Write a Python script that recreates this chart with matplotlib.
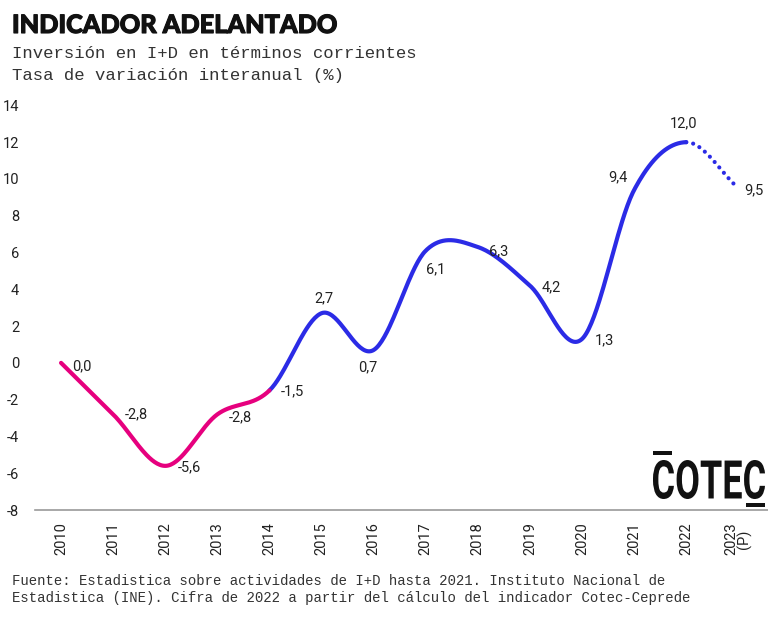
import numpy as np
import matplotlib
matplotlib.use("Agg")
import matplotlib.pyplot as plt
import matplotlib.patheffects as pe
from matplotlib.textpath import TextPath
from matplotlib.patches import PathPatch, Rectangle
from matplotlib.font_manager import FontProperties
from matplotlib.transforms import Affine2D

# data
years = ["2010", "2011", "2012", "2013", "2014", "2015", "2016", "2017",
         "2018", "2019", "2020", "2021", "2022", "2023\n(P)"]
values = [0.0, -2.8, -5.6, -2.8, -1.5, 2.7, 0.7, 6.1, 6.3, 4.2, 1.3, 9.4, 12.0, 9.5]
labels = ["0,0", "-2,8", "-5,6", "-2,8", "-1,5", "2,7", "0,7", "6,1",
          "6,3", "4,2", "1,3", "9,4", "12,0", "9,5"]
# label offsets in pixels from each point
label_off = [(21, -3), (23, 0), (24, -1), (23, -3), (23, -1), (2, 15), (-6, -17),
             (10, -19), (21, -4), (21, -2), (22, -1), (-16, 13), (-3, 19), (16, -2)]

pink = "#E6007E"
blue = "#2B2BE6"

x = np.arange(len(values))
y = np.array(values)

# Catmull-Rom style tangents
m = np.zeros_like(y)
m[1:-1] = (y[2:] - y[:-2]) / 2
m[0] = y[1] - y[0]
m[-1] = y[-1] - y[-2]


def segment(i, n=40):
    t = np.linspace(0, 1, n)
    h00 = 2 * t**3 - 3 * t**2 + 1
    h10 = t**3 - 2 * t**2 + t
    h01 = -2 * t**3 + 3 * t**2
    h11 = t**3 - t**2
    yy = h00 * y[i] + h10 * m[i] + h01 * y[i + 1] + h11 * m[i + 1]
    return x[i] + t, yy


def curve(a, b):
    xs, ys = [], []
    for i in range(a, b):
        sx, sy = segment(i)
        xs.append(sx)
        ys.append(sy)
    return np.concatenate(xs), np.concatenate(ys)


fig = plt.figure(figsize=(7.68, 6.17), dpi=100)
ax = fig.add_axes([35 / 768, 1 - 510 / 617, 1 - 35 / 768, (510 - 105.4) / 617])

cx, cy = curve(4, 12)
ax.plot(cx, cy, color=blue, lw=3, solid_capstyle="round", zorder=3)
cx, cy = curve(0, 4)
ax.plot(cx, cy, color=pink, lw=3, solid_capstyle="round", zorder=4)
cx, cy = curve(12, 13)
ax.plot(cx, cy, color=blue, lw=3, linestyle=(0, (0.01, 1.7)),
        dash_capstyle="round", zorder=3)

for xi, yi, lab, off in zip(x, y, labels, label_off):
    ax.annotate(lab, (xi, yi), xytext=off, textcoords="offset pixels",
                ha="center", va="center", fontsize=10.5, family="Roboto",
                color="#222222")

ax.set_xlim(-0.5, 13.57)
ax.set_ylim(-8, 14)
ax.set_yticks(range(-8, 15, 2))
ax.set_yticklabels([str(v) for v in range(-8, 15, 2)], family="Roboto",
                   fontsize=10.5, color="#222222")
ax.set_xticks(x)
ax.set_xticklabels(years, rotation=90, family="Roboto", fontsize=10.5,
                   color="#222222", linespacing=0.9)
ax.tick_params(axis="both", length=0)
ax.tick_params(axis="y", pad=11.5)
ax.tick_params(axis="x", pad=9)
for s in ["top", "right", "left"]:
    ax.spines[s].set_visible(False)
ax.spines["bottom"].set_color("#9a9a9a")
ax.spines["bottom"].set_linewidth(1.2)

# title / subtitle / footer
fig.text(12 / 768, 1 - 33 / 617, "INDICADOR ADELANTADO", family="Lato",
         fontweight="black", fontsize=18.2, color="#111111",
         path_effects=[pe.withStroke(linewidth=0.8, foreground="#111111")])
fig.text(12 / 768, 1 - 58 / 617, "Inversión en I+D en términos corrientes",
         family="Liberation Mono", fontsize=12.4, color="#333333")
fig.text(12 / 768, 1 - 80 / 617, "Tasa de variación interanual (%)",
         family="Liberation Mono", fontsize=12.4, color="#333333")
fig.text(12 / 768, 1 - 585 / 617,
         "Fuente: Estadistica sobre actividades de I+D hasta 2021. Instituto Nacional de",
         family="Liberation Mono", fontsize=10.1, color="#333333")
fig.text(12 / 768, 1 - 602 / 617,
         "Estadistica (INE). Cifra de 2022 a partir del cálculo del indicador Cotec-Ceprede",
         family="Liberation Mono", fontsize=10.1, color="#333333")

# COTEC logo
tp = TextPath((0, 0), "COTEC", size=40,
              prop=FontProperties(family="Roboto", weight="bold"))
ext = tp.get_extents()
x0, x1, y0, y1 = 653, 765, 460, 499
sx = (x1 - x0) / ext.width
sy = (y1 - y0) / ext.height
tr = Affine2D().translate(-ext.x0, -ext.y0).scale(sx / 100, sy / 100) \
    .translate(x0 / 100, (617 - y1) / 100) + fig.dpi_scale_trans
fig.add_artist(PathPatch(tp, transform=tr, facecolor="#111111", edgecolor="none"))
fig.add_artist(Rectangle((653 / 100, (617 - 455) / 100), 19 / 100, 4 / 100,
                         transform=fig.dpi_scale_trans, facecolor="#111111",
                         edgecolor="none"))
fig.add_artist(Rectangle((746 / 100, (617 - 507) / 100), 19 / 100, 4 / 100,
                         transform=fig.dpi_scale_trans, facecolor="#111111",
                         edgecolor="none"))

fig.savefig("out.png", dpi=100)
